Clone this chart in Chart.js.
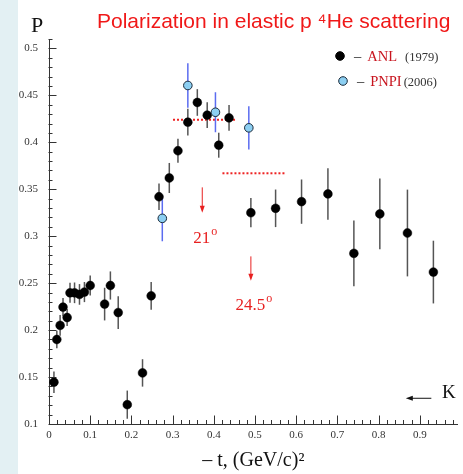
<!DOCTYPE html>
<html>
<head>
<meta charset="utf-8">
<script src="https://cdn.jsdelivr.net/npm/chart.js@4.4.1/dist/chart.umd.min.js"></script>
<style>
  html, body { margin: 0; padding: 0; background: #ffffff; }
  #wrap { position: relative; width: 463px; height: 474px; }
  canvas { display: block; }
</style>
</head>
<body>
<div id="wrap"><canvas id="c" width="463" height="474"></canvas></div>
<script>
// ---------- data ----------
const anlX   = [0.012, 0.019, 0.027, 0.034, 0.044, 0.051, 0.062, 0.074, 0.086, 0.100,
                0.135, 0.149, 0.168, 0.190, 0.227, 0.248, 0.267, 0.292, 0.313, 0.337,
                0.360, 0.384, 0.412, 0.437, 0.490, 0.550, 0.613, 0.677, 0.740, 0.803,
                0.870, 0.933];
const anlY   = [0.1445, 0.190, 0.205, 0.2245, 0.2134, 0.2397, 0.2397, 0.238, 0.2405, 0.2475,
                0.2277, 0.2475, 0.2187, 0.1206, 0.1544, 0.2365, 0.342, 0.362, 0.391, 0.4214,
                0.4424, 0.4289, 0.3969, 0.426, 0.325, 0.3297, 0.3368, 0.345, 0.2817, 0.3237,
                0.3034, 0.2618];
const anlErr = [0.0115, 0.0094, 0.011, 0.0098, 0.009, 0.0107, 0.011, 0.011, 0.0107, 0.0107,
                0.0174, 0.015, 0.0174, 0.015, 0.0146, 0.0148, 0.0142, 0.016, 0.0128, 0.0142,
                0.0142, 0.0137, 0.0133, 0.0137, 0.0156, 0.020, 0.0236, 0.0274, 0.035, 0.0377,
                0.0462, 0.0334];

const pnpiX   = [0.275, 0.337, 0.404, 0.485];
const pnpiY   = [0.319, 0.4605, 0.432, 0.4154];
const pnpiErr = [0.0244, 0.0236, 0.0213, 0.023];

const seriesNames = ['ANL', 'PNPI'];
const seriesYears = ['(1979)', '(2006)'];

// red dotted reference levels: [xFrom, xTo, y]
const dottedLevels = [[0.301, 0.453, 0.424], [0.421, 0.576, 0.367]];
// angle marks: x, arrow top, arrow tip, label, label baseline
const angleMarks = [
  { x: 0.372, y1: 0.352, y2: 0.325, label: '21',   ly: 0.2925 },
  { x: 0.490, y1: 0.2785, y2: 0.2525, label: '24.5', ly: 0.2215 }
];

const chartTitle = 'Polarization in elastic p \u2074He scattering';
const xTitle = '\u2013 t, (GeV/c)\u00B2';
const yTitle = 'P';

// ---------- helpers ----------
function arrowV(ctx, x, yA, yB, color) {
  ctx.strokeStyle = color; ctx.fillStyle = color; ctx.lineWidth = 1;
  ctx.beginPath(); ctx.moveTo(x, yA); ctx.lineTo(x, yB - 5); ctx.stroke();
  ctx.beginPath(); ctx.moveTo(x - 2.5, yB - 7); ctx.lineTo(x + 2.5, yB - 7); ctx.lineTo(x, yB); ctx.closePath(); ctx.fill();
}

const decorPlugin = {
  id: 'decor',
  beforeDraw(chart) {
    const ctx = chart.ctx;
    ctx.save();
    ctx.fillStyle = '#ffffff';
    ctx.fillRect(0, 0, chart.width, chart.height);
    ctx.fillStyle = '#e3f0f3';
    ctx.fillRect(0, 0, 18, chart.height);
    ctx.restore();
  },
  beforeDatasetsDraw(chart) {
    const { ctx, scales: { x, y }, chartArea } = chart;
    ctx.save();
    // inward ticks
    ctx.strokeStyle = '#333'; ctx.lineWidth = 1;
    const left = Math.round(chartArea.left) - 0.5;
    for (let k = 10; k <= 51; k++) {
      const v = k / 100;
      const py = Math.round(y.getPixelForValue(v)) + 0.5;
      const len = (k % 5 === 0) ? 8 : 4;
      ctx.beginPath(); ctx.moveTo(left, py); ctx.lineTo(left + len, py); ctx.stroke();
    }
    const bottom = Math.round(chartArea.bottom) + 0.5;
    for (let k = 1; k <= 49; k++) {
      const v = k / 50;
      const px = Math.round(x.getPixelForValue(v)) + 0.5;
      const len = (k % 5 === 0) ? 9 : 4.5;
      ctx.beginPath(); ctx.moveTo(px, bottom); ctx.lineTo(px, bottom - len); ctx.stroke();
    }
    // dotted reference levels
    ctx.strokeStyle = '#ee2222'; ctx.lineWidth = 2; ctx.setLineDash([2, 2]);
    dottedLevels.forEach(([a, b, v]) => {
      const py = y.getPixelForValue(v);
      ctx.beginPath(); ctx.moveTo(x.getPixelForValue(a), py); ctx.lineTo(x.getPixelForValue(b), py); ctx.stroke();
    });
    ctx.setLineDash([]);
    // error bars
    ctx.lineWidth = 1.5;
    ctx.strokeStyle = '#555';
    anlX.forEach((vx, i) => {
      const px = x.getPixelForValue(vx);
      ctx.beginPath();
      ctx.moveTo(px, y.getPixelForValue(anlY[i] - anlErr[i]));
      ctx.lineTo(px, y.getPixelForValue(anlY[i] + anlErr[i]));
      ctx.stroke();
    });
    ctx.strokeStyle = '#5b6cf0';
    pnpiX.forEach((vx, i) => {
      const px = x.getPixelForValue(vx);
      ctx.beginPath();
      ctx.moveTo(px, y.getPixelForValue(pnpiY[i] - pnpiErr[i]));
      ctx.lineTo(px, y.getPixelForValue(pnpiY[i] + pnpiErr[i]));
      ctx.stroke();
    });
    ctx.restore();
  },
  afterDraw(chart) {
    const { ctx, scales: { x, y } } = chart;
    ctx.save();
    // title
    ctx.fillStyle = '#f01818';
    ctx.font = '21px "Liberation Sans", Arial, sans-serif';
    ctx.textAlign = 'left'; ctx.textBaseline = 'alphabetic';
    ctx.fillText(chartTitle, 97, 28);
    // y title
    ctx.fillStyle = '#111';
    ctx.font = '22px "Liberation Serif", serif';
    ctx.fillText(yTitle, 31, 32);
    // angle marks
    angleMarks.forEach(m => {
      const px = x.getPixelForValue(m.x);
      arrowV(ctx, px, y.getPixelForValue(m.y1), y.getPixelForValue(m.y2), '#e82020');
      ctx.fillStyle = '#e82020';
      ctx.font = '17px "Liberation Serif", serif';
      const w = ctx.measureText(m.label).width;
      const lx = px - (w + 7) / 2 + 3;
      const ly = y.getPixelForValue(m.ly);
      ctx.fillText(m.label, lx, ly);
      ctx.font = '12px "Liberation Serif", serif';
      ctx.fillText('o', lx + w + 1, ly - 8);
    });
    // K arrow
    const ky = y.getPixelForValue(0.1274);
    const kx1 = x.getPixelForValue(0.928), kx2 = x.getPixelForValue(0.866);
    ctx.strokeStyle = '#111'; ctx.fillStyle = '#111'; ctx.lineWidth = 1;
    ctx.beginPath(); ctx.moveTo(kx1, ky); ctx.lineTo(kx2 + 5, ky); ctx.stroke();
    ctx.beginPath(); ctx.moveTo(kx2 + 7, ky - 2.5); ctx.lineTo(kx2 + 7, ky + 2.5); ctx.lineTo(kx2, ky); ctx.closePath(); ctx.fill();
    ctx.font = '19px "Liberation Serif", serif';
    ctx.fillText('K', x.getPixelForValue(0.954), ky);
    // legend
    const rows = [
      { mx: 340, my: 56, fill: '#000', stroke: '#000', base: 61 },
      { mx: 343, my: 81, fill: '#8ccff2', stroke: '#1a2a3a', base: 86 }
    ];
    rows.forEach((r, i) => {
      ctx.beginPath(); ctx.arc(r.mx, r.my, 4.3, 0, Math.PI * 2);
      ctx.fillStyle = r.fill; ctx.fill();
      ctx.strokeStyle = r.stroke; ctx.lineWidth = 1; ctx.stroke();
      let tx = r.mx + 14;
      ctx.fillStyle = '#222';
      ctx.font = '14.5px "Liberation Serif", serif';
      ctx.fillText('\u2013', tx, r.base);
      tx += ctx.measureText('\u2013').width + 6;
      ctx.fillStyle = '#c8141e';
      ctx.fillText(seriesNames[i], tx, r.base);
      tx += ctx.measureText(seriesNames[i]).width + (i === 0 ? 8 : 2);
      ctx.fillStyle = '#333';
      ctx.font = '12.5px "Liberation Serif", serif';
      ctx.fillText(seriesYears[i], tx, r.base);
    });
    ctx.restore();
  }
};

function fmt(v, step) {
  const r = Math.round(v / step);
  if (Math.abs(v / step - r) > 1e-6) return '';
  const s = parseFloat((r * step).toFixed(2)).toString();
  return s;
}

new Chart(document.getElementById('c').getContext('2d'), {
  type: 'scatter',
  data: {
    datasets: [
      {
        label: 'PNPI (2006)',
        data: pnpiX.map((vx, i) => ({ x: vx, y: pnpiY[i] })),
        pointRadius: 4.3, pointHoverRadius: 4.3,
        pointBackgroundColor: '#8ccff2', pointBorderColor: '#1a2a3a', pointBorderWidth: 1,
        order: 0
      },
      {
        label: 'ANL (1979)',
        data: anlX.map((vx, i) => ({ x: vx, y: anlY[i] })),
        pointRadius: 4.4, pointHoverRadius: 4.4,
        pointBackgroundColor: '#000', pointBorderColor: '#000', pointBorderWidth: 0.5,
        order: 1
      }
    ]
  },
  options: {
    responsive: false,
    animation: false,
    devicePixelRatio: 1,
    layout: { padding: { top: 39, right: 0, bottom: 0, left: 0 } },
    plugins: { legend: { display: false }, tooltip: { enabled: false }, title: { display: false } },
    scales: {
      x: {
        type: 'linear', min: 0, max: 0.992,
        afterFit(s) { s.height = 50; },
        grid: { display: false, drawTicks: false },
        border: { display: true, color: '#333', width: 1 },
        ticks: {
          stepSize: 0.1, includeBounds: false, autoSkip: false, maxRotation: 0, padding: 5, color: '#333',
          font: { family: '"Liberation Serif", serif', size: 11 },
          callback(v) { return fmt(v, 0.1); }
        },
        title: {
          display: true, text: xTitle, color: '#111',
          font: { family: '"Liberation Serif", serif', size: 20 },
          padding: { top: 0, bottom: 1 }
        }
      },
      y: {
        type: 'linear', min: 0.1, max: 0.51,
        afterFit(s) { s.width = 49; },
        grid: { display: false, drawTicks: false },
        border: { display: true, color: '#333', width: 1 },
        ticks: {
          stepSize: 0.05, includeBounds: false, autoSkip: false, padding: 11, color: '#333',
          font: { family: '"Liberation Serif", serif', size: 11 },
          callback(v) { return fmt(v, 0.05); }
        }
      }
    }
  },
  plugins: [decorPlugin]
});
</script>
</body>
</html>
